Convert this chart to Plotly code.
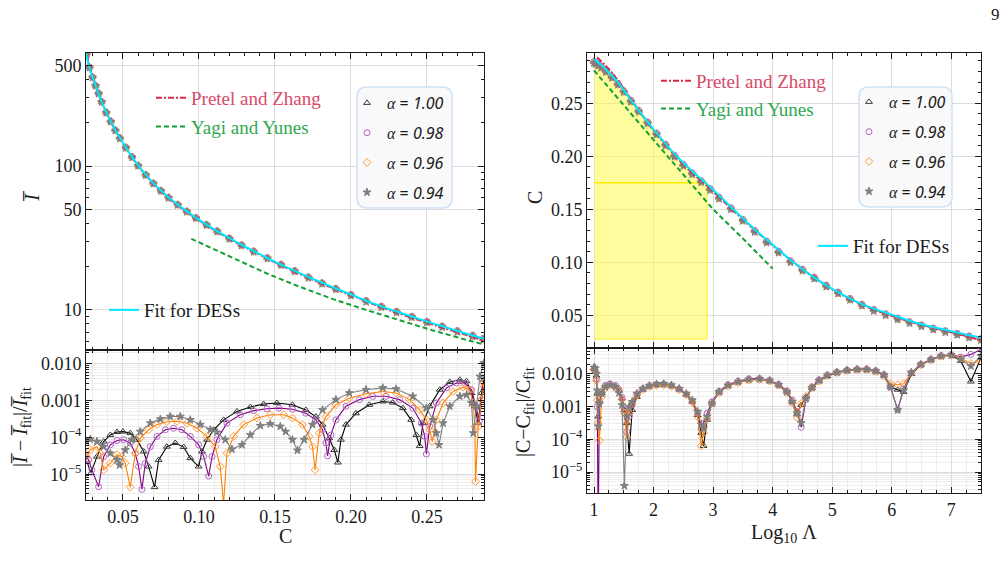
import numpy as np
import plotly.graph_objects as go

# ======================= DATA =======================
# ---- left top: I-bar vs compactness C ----
C_fit = [0.0257, 0.0276, 0.030, 0.033, 0.036, 0.040, 0.045, 0.050, 0.055, 0.060, 0.065, 0.070, 0.075,
         0.080, 0.085, 0.090, 0.095, 0.100, 0.110, 0.120, 0.130, 0.140, 0.150, 0.160, 0.170, 0.180,
         0.190, 0.200, 0.210, 0.220, 0.230, 0.240, 0.250, 0.260, 0.270, 0.280, 0.2875]
I_fit = [615, 500, 415, 338, 280, 225, 178, 145, 120, 101, 87, 76, 67.5,
         60.5, 55, 50.2, 46, 42.3, 36.3, 31.5, 27.6, 24.4, 21.6, 19.3, 17.3, 15.6,
         14.1, 12.8, 11.6, 10.6, 9.75, 9.0, 8.3, 7.7, 7.15, 6.65, 6.3]

C_pz = [0.0262, 0.030, 0.035, 0.040, 0.050, 0.060, 0.070, 0.080, 0.090, 0.100, 0.120, 0.140, 0.160,
        0.180, 0.200, 0.220, 0.240, 0.260, 0.280, 0.2875]
I_pz = [590, 412, 296, 224, 144, 100, 75.5, 60, 49.8, 42, 31.2, 24.2, 19.1, 15.4, 12.65, 10.45, 8.85,
        7.55, 6.5, 6.1]

C_yy = [0.095, 0.1224, 0.1443, 0.1662, 0.1882, 0.2101, 0.232, 0.254, 0.2759, 0.2875]
I_yy = [31.2, 22.9, 18.0, 14.5, 11.9, 10.0, 8.5, 7.2, 6.2, 5.75]

C_top = [0.026, 0.028, 0.030, 0.032, 0.034, 0.036, 0.039, 0.042, 0.045, 0.048, 0.052, 0.056, 0.060,
         0.065, 0.070, 0.075, 0.080, 0.086, 0.092, 0.098, 0.105, 0.112, 0.120, 0.128, 0.136, 0.145,
         0.154, 0.163, 0.172, 0.181, 0.190, 0.200, 0.210, 0.220, 0.230, 0.240, 0.250, 0.260, 0.270,
         0.280, 0.287]
I_a100 = [595, 485, 415, 362, 320, 280, 236, 205, 178, 157, 135, 116, 101, 87, 76, 67.5, 60.5, 54,
          48.5, 43.8, 39.2, 35.3, 31.5, 28.3, 25.6, 23.0, 20.7, 18.7, 16.9, 15.4, 14.1, 12.8, 11.6,
          10.6, 9.75, 9.0, 8.3, 7.7, 7.15, 6.65, 6.3]
I_a098 = [597, 487, 416, 363, 321, 281, 237, 205, 178, 157, 135, 116, 101, 87, 76, 67.6, 60.6, 54.1,
          48.6, 43.9, 39.3, 35.4, 31.6, 28.4, 25.7, 23.1, 20.8, 18.8, 17.0, 15.45, 14.15, 12.85, 11.65,
          10.65, 9.8, 9.05, 8.35, 7.75, 7.2, 6.7, 6.35]
I_a096 = [593, 484, 414, 361, 319, 279, 235, 204, 177, 156, 134, 115, 100.5, 86.6, 75.7, 67.3, 60.3,
          53.8, 48.3, 43.6, 39.0, 35.1, 31.3, 28.1, 25.4, 22.9, 20.6, 18.6, 16.8, 15.3, 14.0, 12.7,
          11.5, 10.5, 9.7, 8.95, 8.25, 7.65, 7.1, 6.6, 6.25]
I_a094 = [591, 482, 412, 360, 318, 278, 234, 203, 176, 155, 133.5, 114.8, 100.2, 86.3, 75.4, 67.0,
          60.0, 53.6, 48.1, 43.4, 38.8, 35.0, 31.2, 28.0, 25.3, 22.8, 20.5, 18.5, 16.7, 15.2, 13.9,
          12.6, 11.4, 10.45, 9.6, 8.9, 8.2, 7.6, 7.05, 6.55, 6.2]

# ---- left bottom: |I - I_fit| / I_fit (log10 of the values read) ----
C_r100 = [0.0263, 0.0289, 0.0329, 0.0373, 0.0417, 0.0461, 0.0500, 0.0548, 0.0592, 0.0636, 0.0669,
          0.0708, 0.0735, 0.0789, 0.0844, 0.0899, 0.0943, 0.0998, 0.1020, 0.1053, 0.1096, 0.1162,
          0.1250, 0.1338, 0.1425, 0.1513, 0.1615, 0.1703, 0.1769, 0.1813, 0.1857, 0.1890, 0.1914,
          0.1934, 0.1967, 0.2033, 0.2121, 0.2209, 0.2275, 0.2341, 0.2396, 0.2430, 0.2452, 0.2474,
          0.2518, 0.2584, 0.2650, 0.2716, 0.2760, 0.2793, 0.2815, 0.2837, 0.2859, 0.2874]
L10_r100 = [-4.65, -4.97, -4.52, -4.11, -3.93, -3.85, -3.84, -3.88, -4.06, -4.38, -4.79, -5.35, -4.61,
            -4.25, -4.15, -4.26, -4.56, -4.79, -4.38, -4.06, -3.79, -3.52, -3.29, -3.17, -3.09, -3.06,
            -3.11, -3.25, -3.43, -3.65, -4.02, -4.34, -4.68, -4.06, -3.65, -3.34, -3.11, -3.02, -3.05,
            -3.20, -3.52, -3.93, -4.23, -3.61, -3.15, -2.70, -2.49, -2.43, -2.47, -2.79, -3.15, -3.61,
            -2.79, -2.43]
C_r098 = [0.0260, 0.0274, 0.0296, 0.0340, 0.0373, 0.0417, 0.0461, 0.0504, 0.0548, 0.0581, 0.0603,
          0.0625, 0.0647, 0.0680, 0.0724, 0.0779, 0.0833, 0.0888, 0.0943, 0.0998, 0.1031, 0.1064,
          0.1086, 0.1118, 0.1184, 0.1272, 0.1360, 0.1447, 0.1526, 0.1615, 0.1703, 0.1769, 0.1813,
          0.1835, 0.1846, 0.1868, 0.1901, 0.1967, 0.2055, 0.2143, 0.2231, 0.2319, 0.2407, 0.2463,
          0.2485, 0.2496, 0.2518, 0.2562, 0.2628, 0.2694, 0.2749, 0.2793, 0.2822, 0.2844, 0.2859,
          0.2874]
L10_r098 = [-4.52, -4.61, -4.88, -5.34, -4.52, -4.20, -4.08, -4.06, -4.15, -4.43, -4.79, -5.41, -4.70,
            -4.25, -3.97, -3.79, -3.75, -3.79, -3.97, -4.20, -4.52, -5.05, -4.52, -4.06, -3.61, -3.38,
            -3.27, -3.22, -3.20, -3.23, -3.34, -3.52, -3.79, -4.15, -4.50, -3.93, -3.52, -3.15, -2.97,
            -2.88, -2.88, -2.97, -3.20, -3.61, -3.97, -4.45, -3.70, -3.06, -2.65, -2.52, -2.52, -2.70,
            -3.15, -3.56, -2.97, -2.61]
C_r096 = [0.0260, 0.0285, 0.0329, 0.0351, 0.0373, 0.0417, 0.0461, 0.0493, 0.0515, 0.0548, 0.0581,
          0.0614, 0.0669, 0.0724, 0.0789, 0.0855, 0.0921, 0.0987, 0.1053, 0.1107, 0.1140, 0.1162,
          0.1184, 0.1228, 0.1294, 0.1382, 0.1469, 0.1557, 0.1615, 0.1681, 0.1725, 0.1747, 0.1764,
          0.1791, 0.1835, 0.1901, 0.1989, 0.2099, 0.2209, 0.2297, 0.2385, 0.2452, 0.2496, 0.2518,
          0.2535, 0.2562, 0.2606, 0.2672, 0.2738, 0.2782, 0.2804, 0.2815, 0.2819, 0.2837, 0.2859,
          0.2874]
L10_r096 = [-4.52, -4.34, -4.25, -4.43, -4.88, -4.70, -4.47, -4.52, -4.70, -5.35, -4.43, -4.02, -3.79,
            -3.65, -3.57, -3.56, -3.61, -3.75, -3.97, -4.25, -4.79, -5.80, -4.43, -3.97, -3.65, -3.47,
            -3.38, -3.38, -3.47, -3.65, -3.97, -4.25, -4.88, -3.88, -3.43, -3.11, -2.93, -2.81, -2.75,
            -2.79, -2.97, -3.25, -3.52, -3.79, -4.11, -3.52, -3.06, -2.75, -2.63, -2.70, -3.06, -3.70,
            -5.20, -3.70, -2.97, -2.52]
C_r094 = [0.0260, 0.0285, 0.0329, 0.0373, 0.0417, 0.0461, 0.0478, 0.0515, 0.0559, 0.0614, 0.0680,
          0.0746, 0.0811, 0.0877, 0.0943, 0.1009, 0.1075, 0.1118, 0.1173, 0.1217, 0.1283, 0.1338,
          0.1404, 0.1469, 0.1535, 0.1570, 0.1615, 0.1648, 0.1692, 0.1747, 0.1813, 0.1901, 0.1989,
          0.2099, 0.2209, 0.2297, 0.2407, 0.2496, 0.2540, 0.2562, 0.2579, 0.2606, 0.2650, 0.2716,
          0.2760, 0.2793, 0.2804, 0.2826, 0.2848, 0.2874]
L10_r094 = [-4.11, -4.05, -4.11, -4.25, -4.43, -4.61, -4.75, -4.34, -4.06, -3.84, -3.61, -3.50, -3.43,
            -3.43, -3.52, -3.65, -3.79, -3.86, -4.06, -4.32, -4.20, -3.93, -3.68, -3.63, -3.70, -3.84,
            -4.06, -4.35, -4.06, -3.65, -3.25, -2.97, -2.79, -2.70, -2.65, -2.68, -2.88, -3.20, -3.52,
            -3.88, -4.20, -3.61, -3.15, -2.88, -2.84, -3.06, -3.88, -3.15, -2.34, -1.97]

# ---- right top: C vs log10(Lambda) ----
L_fit = [1.0, 1.2, 1.4, 1.66, 2.0, 2.39, 2.7, 3.0, 3.34, 3.7, 4.0, 4.35, 4.7, 5.0, 5.5, 6.03, 6.5,
         7.0, 7.5]
Cr_fit = [0.292, 0.282, 0.270, 0.250, 0.2255, 0.200, 0.1835, 0.1685, 0.150, 0.131, 0.1165, 0.100,
          0.0855, 0.075, 0.0605, 0.050, 0.0415, 0.035, 0.029]
L_pz = [1.05, 1.3, 1.6, 2.0, 2.5, 3.0, 3.5, 4.0, 4.5, 5.0, 5.5, 6.0, 6.5, 7.0, 7.5]
Cr_pz = [0.2935, 0.279, 0.2555, 0.2245, 0.1925, 0.167, 0.1405, 0.116, 0.0935, 0.0745, 0.060, 0.0495,
         0.041, 0.034, 0.0265]
L_yy = [1.0, 1.5, 2.0, 2.5, 3.0, 3.5, 4.0]
Cr_yy = [0.281, 0.2485, 0.2155, 0.1835, 0.150, 0.1225, 0.094]
L_top = [1.0, 1.03, 1.07, 1.12, 1.2, 1.3, 1.4, 1.5, 1.62, 1.75, 1.9, 2.05, 2.2, 2.35, 2.5, 2.65, 2.8,
         2.95, 3.1, 3.3, 3.5, 3.7, 3.9, 4.1, 4.3, 4.5, 4.7, 4.9, 5.1, 5.3, 5.5, 5.7, 5.9, 6.1, 6.3,
         6.5, 6.7, 6.9, 7.1, 7.3, 7.5]
Cr_a100 = [0.289, 0.288, 0.2865, 0.2845, 0.2805, 0.275, 0.2685, 0.2615, 0.2525, 0.243, 0.232, 0.2215,
           0.211, 0.2005, 0.192, 0.184, 0.1765, 0.169, 0.161, 0.151, 0.140, 0.1295, 0.1195, 0.110,
           0.101, 0.093, 0.0855, 0.078, 0.0715, 0.0655, 0.060, 0.055, 0.051, 0.047, 0.0435, 0.0405,
           0.0375, 0.035, 0.0325, 0.030, 0.0275]
Cr_a098 = [0.2895, 0.2885, 0.287, 0.285, 0.281, 0.2755, 0.269, 0.262, 0.253, 0.2435, 0.2325, 0.222,
           0.2115, 0.201, 0.1925, 0.1845, 0.177, 0.1695, 0.1615, 0.1515, 0.1405, 0.130, 0.120, 0.1105,
           0.1015, 0.0935, 0.086, 0.0785, 0.072, 0.066, 0.0605, 0.0555, 0.0515, 0.0475, 0.044, 0.041,
           0.038, 0.0355, 0.033, 0.0305, 0.028]
Cr_a096 = [0.2885, 0.2875, 0.286, 0.284, 0.280, 0.2745, 0.268, 0.261, 0.252, 0.2425, 0.2315, 0.221,
           0.2105, 0.200, 0.1915, 0.1835, 0.176, 0.1685, 0.1605, 0.1505, 0.1395, 0.129, 0.119, 0.1095,
           0.1005, 0.0925, 0.085, 0.0775, 0.071, 0.065, 0.0595, 0.0545, 0.0505, 0.0465, 0.043, 0.040,
           0.037, 0.0345, 0.032, 0.0295, 0.027]
Cr_a094 = [0.288, 0.287, 0.2855, 0.2835, 0.2795, 0.274, 0.2675, 0.2605, 0.2515, 0.242, 0.231, 0.2205,
           0.210, 0.1995, 0.191, 0.183, 0.1755, 0.168, 0.160, 0.150, 0.139, 0.1285, 0.1185, 0.109,
           0.100, 0.092, 0.0845, 0.077, 0.0705, 0.0645, 0.059, 0.054, 0.050, 0.046, 0.0425, 0.0395,
           0.0365, 0.034, 0.0315, 0.029, 0.0265]
shade_L = [1.0, 2.9]          # extent of the yellow region in log10(Lambda)
shade_C_floor = 0.0276
shade_C_level = 0.175

# ---- right bottom: |C - C_fit| / C_fit (log10 of the values read) ----
L_res = [1.0, 1.02, 1.04, 1.055, 1.07, 1.09, 1.13, 1.19, 1.27, 1.36, 1.42, 1.47, 1.51, 1.55, 1.59, 1.64,
         1.72, 1.82, 1.93, 2.05, 2.17, 2.3, 2.43, 2.55, 2.65, 2.74, 2.8, 2.84, 2.9, 2.98, 3.1, 3.25,
         3.42, 3.6, 3.78, 3.95, 4.1, 4.24, 4.33, 4.41, 4.48, 4.56, 4.66, 4.78, 4.92, 5.08, 5.25, 5.42,
         5.58, 5.73, 5.87, 5.98, 6.1, 6.2, 6.33, 6.49, 6.66, 6.83, 7.0, 7.16, 7.33, 7.5]
L10_rr100 = [-1.83, -1.86, -2.05, -2.6, -3.3, -2.85, -2.58, -2.37, -2.32, -2.37,
             -2.5, -2.75, -3.1, -3.5, -4.44, -3.1, -2.7, -2.48, -2.38, -2.33,
             -2.32, -2.36, -2.47, -2.63, -2.85, -3.25, -3.8, -4.2, -3.4, -2.9,
             -2.56, -2.36, -2.25, -2.18, -2.16, -2.21, -2.34, -2.55, -2.85, -3.22,
             -2.95, -2.7, -2.43, -2.22, -2.06, -1.96, -1.9, -1.87, -1.87, -1.92,
             -2.05, -2.4, -2.48, -2.55, -2.0, -1.72, -1.57, -1.46, -1.42, -1.6,
             -2.23, -1.5]
L10_rr098 = [-1.85, -1.9, -2.15, -3.0, -7.0, -2.85, -2.55, -2.35, -2.3, -2.35,
             -2.48, -2.72, -3.1, -3.77, -3.3, -2.95, -2.62, -2.45, -2.36, -2.32,
             -2.31, -2.35, -2.46, -2.62, -2.83, -3.2, -3.67, -3.5, -3.2, -2.85,
             -2.53, -2.33, -2.22, -2.15, -2.14, -2.19, -2.32, -2.52, -2.8, -3.15,
             -3.63, -2.78, -2.4, -2.18, -2.03, -1.94, -1.88, -1.85, -1.85, -1.9,
             -2.02, -2.4, -3.1, -2.45, -1.97, -1.7, -1.55, -1.44, -1.41, -1.48,
             -1.4, -1.25]
L10_rr096 = [-1.86, -1.92, -2.2, -2.8, -3.5, -4.03, -2.7, -2.42, -2.35, -2.4,
             -2.52, -2.78, -3.2, -3.93, -3.2, -2.9, -2.65, -2.48, -2.39, -2.35,
             -2.34, -2.38, -2.48, -2.64, -2.86, -3.3, -4.2, -3.8, -3.35, -2.9,
             -2.57, -2.37, -2.26, -2.19, -2.17, -2.22, -2.35, -2.56, -2.88, -3.33,
             -2.9, -2.68, -2.42, -2.22, -2.05, -1.96, -1.9, -1.87, -1.87, -1.92,
             -2.05, -2.3, -2.33, -2.3, -1.97, -1.72, -1.57, -1.46, -1.43, -1.52,
             -1.68, -1.6]
L10_rr094 = [-1.80, -1.83, -2.0, -2.5, -3.6, -2.9, -2.6, -2.4, -2.34, -2.4,
             -2.58, -2.95, -5.42, -3.3, -3.0, -2.85, -2.6, -2.45, -2.36, -2.31,
             -2.3, -2.34, -2.45, -2.6, -2.8, -3.15, -3.55, -3.67, -3.3, -2.9,
             -2.55, -2.35, -2.24, -2.17, -2.15, -2.2, -2.33, -2.55, -2.85, -3.2,
             -3.5, -2.75, -2.42, -2.2, -2.04, -1.95, -1.89, -1.86, -1.86, -1.91,
             -2.03, -2.4, -3.1, -2.5, -1.95, -1.71, -1.56, -1.45, -1.42, -1.55,
             -1.76, -1.45]

alpha_labels = ["1.00", "0.98", "0.96", "0.94"]

for a, b in [(C_r100, L10_r100), (C_r098, L10_r098), (C_r096, L10_r096), (C_r094, L10_r094),
             (L_res, L10_rr100), (L_res, L10_rr098), (L_res, L10_rr096), (L_res, L10_rr094),
             (C_top, I_a100), (L_top, Cr_a100), (L_top, Cr_a094)]:
    assert len(a) == len(b), (len(a), len(b))

# ======================= STYLE / LAYOUT =======================
W, H = 1008, 575
SERIF = "Liberation Serif"
INK = "#1a1a1a"


def fx(p):
    return p / W


def fy(p):
    return 1 - p / H


styles = [
    dict(sym="triangle-up-open", mcol="#3a3a3a", lcol="#000000", msize=6),
    dict(sym="circle-open", mcol="#b565c8", lcol="#800080", msize=6),
    dict(sym="diamond-open", mcol="#ff9933", lcol="#ff8000", msize=6),
    dict(sym="star", mcol="#7f7f7f", lcol="#808080", msize=6),
]
RED_LINE, RED_TXT = "#d42a45", "#d84a66"
GREEN_LINE, GREEN_TXT = "#14a035", "#2fa84f"
CYAN = "#00e8ff"

fig = go.Figure()

top_left = [I_a100, I_a098, I_a096, I_a094]
res_left = [(C_r100, L10_r100), (C_r098, L10_r098), (C_r096, L10_r096), (C_r094, L10_r094)]
top_right = [Cr_a100, Cr_a098, Cr_a096, Cr_a094]
res_right = [L10_rr100, L10_rr098, L10_rr096, L10_rr094]


def alpha_name(lbl):
    return (f'<span style="font-family:{SERIF}"><i>α</i></span> = '
            f'<i>{lbl}</i>')


# ---------- left top ----------
for i, (st, lbl) in enumerate(zip(styles, alpha_labels)):
    fig.add_trace(go.Scatter(x=C_top, y=top_left[i], mode="markers", name=alpha_name(lbl),
                             marker=dict(symbol=st["sym"], color=st["mcol"], size=st["msize"],
                                         line=dict(width=1, color=st["mcol"])),
                             xaxis="x", yaxis="y", legend="legend2", legendgroup=f"la{i}"))
fig.add_trace(go.Scatter(x=C_yy, y=I_yy, mode="lines", line=dict(color=GREEN_LINE, width=2, dash="5px,3px"),
                         name=f'<span style="color:{GREEN_TXT}">Yagi and Yunes</span>',
                         xaxis="x", yaxis="y", legend="legend", legendgroup="lyy", legendrank=2))
fig.add_trace(go.Scatter(x=C_pz, y=I_pz, mode="lines", line=dict(color=RED_LINE, width=2, dash="6px,2px,2px,2px", shape="spline"),
                         name=f'<span style="color:{RED_TXT}">Pretel and Zhang</span>',
                         xaxis="x", yaxis="y", legend="legend", legendgroup="lpz", legendrank=1))
fig.add_trace(go.Scatter(x=C_fit, y=I_fit, mode="lines", line=dict(color=CYAN, width=2, shape="spline"),
                         name="Fit for DESs", xaxis="x", yaxis="y", legend="legend3"))

# ---------- left bottom ----------
for i, st in enumerate(styles):
    cx, ly = res_left[i]
    fig.add_trace(go.Scatter(x=cx, y=np.power(10.0, ly), mode="lines+markers", showlegend=False,
                             line=dict(color=st["lcol"], width=1.1),
                             marker=dict(symbol=st["sym"], color=st["mcol"], size=6,
                                         line=dict(width=1, color=st["mcol"])),
                             xaxis="x2", yaxis="y2"))

# ---------- right top ----------
poly_L = [shade_L[0], shade_L[1], shade_L[1]] + [l for l in reversed(L_fit) if l <= shade_L[1]]
poly_C = [shade_C_floor, shade_C_floor, shade_C_level] + \
         [c for l, c in zip(reversed(L_fit), reversed(Cr_fit)) if l <= shade_L[1]]
fig.add_trace(go.Scatter(x=poly_L, y=poly_C, mode="lines", fill="toself",
                         fillcolor="rgba(255,250,60,0.5)", line=dict(color="rgba(255,240,0,0.9)", width=1),
                         showlegend=False, xaxis="x3", yaxis="y3", hoverinfo="skip"))
fig.add_trace(go.Scatter(x=shade_L, y=[shade_C_level, shade_C_level], mode="lines",
                         line=dict(color="#ffee00", width=1.5), showlegend=False, xaxis="x3", yaxis="y3"))
for i, (st, lbl) in enumerate(zip(styles, alpha_labels)):
    fig.add_trace(go.Scatter(x=L_top, y=top_right[i], mode="markers", name=alpha_name(lbl),
                             marker=dict(symbol=st["sym"], color=st["mcol"], size=st["msize"],
                                         line=dict(width=1, color=st["mcol"])),
                             xaxis="x3", yaxis="y3", legend="legend5", legendgroup=f"ra{i}"))
fig.add_trace(go.Scatter(x=L_yy, y=Cr_yy, mode="lines", line=dict(color=GREEN_LINE, width=2, dash="5px,3px"),
                         name=f'<span style="color:{GREEN_TXT}">Yagi and Yunes</span>',
                         xaxis="x3", yaxis="y3", legend="legend4", legendgroup="ryy", legendrank=2))
fig.add_trace(go.Scatter(x=L_pz, y=Cr_pz, mode="lines", line=dict(color=RED_LINE, width=2, dash="6px,2px,2px,2px", shape="spline"),
                         name=f'<span style="color:{RED_TXT}">Pretel and Zhang</span>',
                         xaxis="x3", yaxis="y3", legend="legend4", legendgroup="rpz", legendrank=1))
fig.add_trace(go.Scatter(x=L_fit, y=Cr_fit, mode="lines", line=dict(color=CYAN, width=2, shape="spline"),
                         name="Fit for DESs", xaxis="x3", yaxis="y3", legend="legend6"))

# ---------- right bottom ----------
for i, st in enumerate(styles):
    fig.add_trace(go.Scatter(x=L_res, y=np.power(10.0, res_right[i]), mode="lines+markers", showlegend=False,
                             line=dict(color=st["lcol"], width=1.1),
                             marker=dict(symbol=st["sym"], color=st["mcol"], size=6,
                                         line=dict(width=1, color=st["mcol"])),
                             xaxis="x4", yaxis="y4"))

# ---------- axes ----------
common = dict(showline=True, linecolor=INK, linewidth=1, mirror="allticks", ticks="inside", ticklen=6,
              tickwidth=1, tickcolor=INK, zeroline=False, showgrid=True, gridcolor="#dcdcdc", gridwidth=1,
              tickfont=dict(family=SERIF, size=18, color=INK))
minor_lin = dict(ticks="inside", ticklen=3, tickcolor=INK, showgrid=False)
res_minor_vals = [k * 10.0 ** n for n in range(-7, -1) for k in range(2, 10)]
top_minor_vals = [6, 7, 8, 9, 20, 30, 40, 60, 70, 80, 90, 200, 300, 400, 600]
res_ticks = dict(tickvals=[1e-5, 1e-4, 1e-3, 1e-2],
                 ticktext=["10<sup>−5</sup>", "10<sup>−4</sup>", "0.001", "0.010"])

LX = [fx(86), fx(484)]
RX = [fx(587), fx(981)]
C_range = [0.0257, 0.2875]
L_range = [0.882, 7.5]

fig.update_layout(
    xaxis=dict(common, domain=LX, range=C_range, anchor="y", tick0=0, dtick=0.05, showticklabels=False,
               minor=dict(minor_lin, tick0=0, dtick=0.01)),
    yaxis=dict(common, type="log", domain=[fy(350), fy(53)], range=[0.722, 2.785], anchor="x",
               tickvals=[10, 50, 100, 500], ticktext=["10", "50", "100", "500"],
               minor=dict(minor_lin, tickvals=top_minor_vals)),
    xaxis2=dict(common, domain=LX, range=C_range, anchor="y2", tick0=0, dtick=0.05, tickformat=".2f",
                minor=dict(ticks="inside", ticklen=3, tickcolor=INK, tick0=0, dtick=0.01,
                           showgrid=True, gridcolor="#ececec")),
    yaxis2=dict(common, type="log", domain=[fy(500), fy(350)], range=[-5.70, -1.62], anchor="x2",
                **res_ticks,
                minor=dict(ticks="inside", ticklen=3, tickcolor=INK, tickvals=res_minor_vals,
                           showgrid=True, gridcolor="#ededed")),
    xaxis3=dict(common, domain=RX, range=L_range, anchor="y3", tick0=0, dtick=1, showticklabels=False,
                minor=dict(minor_lin, tick0=0, dtick=0.25)),
    yaxis3=dict(common, domain=[fy(348), fy(53)], range=[0.0191, 0.2975], anchor="x3", tick0=0, dtick=0.05,
                tickformat=".2f", minor=dict(minor_lin, tick0=0, dtick=0.01)),
    xaxis4=dict(common, domain=RX, range=L_range, anchor="y4", tick0=0, dtick=1,
                minor=dict(ticks="inside", ticklen=3, tickcolor=INK, tick0=0, dtick=0.25,
                           showgrid=True, gridcolor="#ececec")),
    yaxis4=dict(common, type="log", domain=[fy(493), fy(348)], range=[-5.64, -1.205], anchor="x4",
                **res_ticks,
                minor=dict(ticks="inside", ticklen=3, tickcolor=INK, tickvals=res_minor_vals,
                           showgrid=True, gridcolor="#ededed")),
)


def leg(xp, yp, size, gap, family=SERIF):
    return dict(x=fx(xp), y=fy(yp), xanchor="left", yanchor="top", bgcolor="rgba(0,0,0,0)", borderwidth=0,
                font=dict(family=family, size=size, color=INK), tracegroupgap=gap, itemwidth=30,
                traceorder="grouped", itemsizing="trace")


ALPHA_FONT = "Noto Sans"
fig.update_layout(
    legend=leg(151, 79, 19, 1),
    legend2=leg(347, 86, 16, 6, ALPHA_FONT),
    legend3=leg(104, 291, 19, 0),
    legend4=leg(656, 62, 19, 0),
    legend5=leg(849, 85, 16, 6, ALPHA_FONT),
    legend6=leg(813, 227, 19, 0),
)


def rounded_box(x0, y0, x1, y1, r):
    def P(x, y):
        return f"{fx(x):.5f},{fy(y):.5f}"
    return (f"M {P(x0 + r, y0)} L {P(x1 - r, y0)} Q {P(x1, y0)} {P(x1, y0 + r)} "
            f"L {P(x1, y1 - r)} Q {P(x1, y1)} {P(x1 - r, y1)} L {P(x0 + r, y1)} "
            f"Q {P(x0, y1)} {P(x0, y1 - r)} L {P(x0, y0 + r)} Q {P(x0, y0)} {P(x0 + r, y0)} Z")


fig.update_layout(shapes=[
    dict(type="path", path=rounded_box(357, 87, 452, 208, 10), xref="paper", yref="paper",
         fillcolor="#f9f9f9", line=dict(color="#cfe2f5", width=1.5), layer="above"),
    dict(type="path", path=rounded_box(859, 87, 952, 207, 10), xref="paper", yref="paper",
         fillcolor="#f9f9f9", line=dict(color="#cfe2f5", width=1.5), layer="above"),
])

ann_font = dict(family=SERIF, size=20, color=INK)


def ann(text, xp, yp, angle=0, font=ann_font):
    return dict(text=text, x=fx(xp), y=fy(yp), xref="paper", yref="paper", showarrow=False,
                textangle=angle, font=font, xanchor="center", yanchor="middle")


fig.update_layout(annotations=[
    ann("<i>I̅</i>", 32, 196, -90),
    ann("|<i>I̅</i> − <i>I̅</i><sub>fit</sub>|/<i>I̅</i><sub>fit</sub>", 21, 427, -90),
    ann("C", 285, 536),
    ann("C", 535, 198, -90),
    ann("|C−C<sub>fit</sub>|/C<sub>fit</sub>", 524, 412, -90),
    ann("Log<sub>10</sub> Λ", 784, 533),
    ann("9", 995, 15, 0, dict(family=SERIF, size=17, color=INK)),
])

fig.update_layout(width=W, height=H, margin=dict(l=0, r=0, t=0, b=0), paper_bgcolor="white",
                  plot_bgcolor="white", showlegend=True)

fig.write_html("out.html")
